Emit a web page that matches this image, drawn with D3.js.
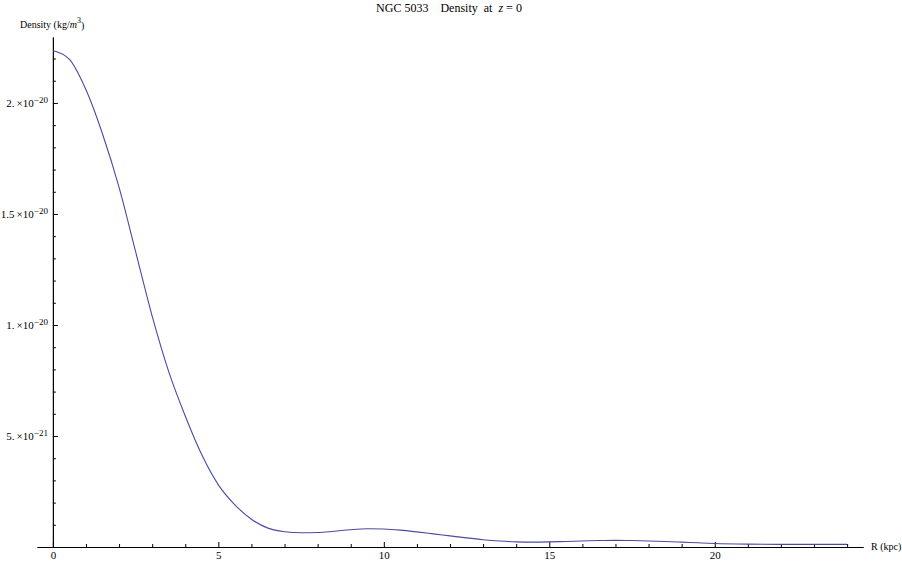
<!DOCTYPE html>
<html>
<head>
<meta charset="utf-8">
<script src="https://cdn.jsdelivr.net/npm/d3@7"></script>
<style>
  body { margin: 0; background: #fff; }
  text { font-family: "Liberation Serif", "Times New Roman", serif; fill: #000; }
  .axis path, .axis line { stroke: #000; stroke-width: 1; }
</style>
</head>
<body>
<script>
// radius in kpc, density in units of 1e-20 kg/m^3
var radius = [0, 0.5, 1, 1.5, 2, 2.5, 3, 3.5, 4, 4.5, 5, 5.5, 6, 6.5, 7, 7.5, 8, 8.5, 9, 9.5,
  10, 10.5, 11, 11.5, 12, 12.5, 13, 13.5, 14, 14.5, 15, 15.5, 16, 16.5, 17, 17.5, 18, 18.5,
  19, 19.5, 20, 21, 22, 23, 24];
var density = [2.236, 2.196, 2.059, 1.86, 1.62, 1.33, 1.04, 0.79, 0.59, 0.415, 0.28, 0.19,
  0.125, 0.085, 0.069, 0.064, 0.065, 0.071, 0.078, 0.082, 0.081, 0.076, 0.068, 0.059, 0.05,
  0.041, 0.033, 0.027, 0.023, 0.022, 0.023, 0.025, 0.027, 0.029, 0.03, 0.029, 0.027, 0.025,
  0.022, 0.019, 0.016, 0.013, 0.012, 0.012, 0.012];

var xTicks = [0, 5, 10, 15, 20];
var yTicks = [0.5, 1, 1.5, 2];
var yTickMantissa = ["5.", "1.", "1.5", "2."];
var yTickExponent = ["\u221221", "\u221220", "\u221220", "\u221220"];

var data = radius.map(function (r, i) {
  return { r: r, d: density[i] };
});

var w = 902, h = 563;

var svg = d3.select("body").append("svg")
  .attr("width", w)
  .attr("height", h);

var x = d3.scaleLinear().domain([-0.48, 24.48]).range([37, 863]);
var y = d3.scaleLinear().domain([0, 2.297]).range([547, 37]);

// minor ticks
var xMinor = d3.range(1, 25).filter(function (v) { return v % 5 != 0; });
var yMinor = d3.range(1, 23).map(function (v) { return v / 10; })
  .filter(function (v) { return Math.round(v * 10) % 5 != 0; });

// x axis
svg.append("g")
  .attr("class", "axis")
  .attr("transform", "translate(0," + y(0) + ")")
  .call(d3.axisBottom(x).tickValues(xMinor).tickSizeInner(-3).tickSizeOuter(0).tickFormat(""));

var xAxis = svg.append("g")
  .attr("class", "axis")
  .attr("transform", "translate(0," + y(0) + ")")
  .call(d3.axisBottom(x).tickValues(xTicks).tickSizeInner(-5).tickSizeOuter(0).tickPadding(4));
xAxis.selectAll("text")
  .style("font-family", "'Liberation Serif', serif")
  .style("font-size", "11px");

// y axis
svg.append("g")
  .attr("class", "axis")
  .attr("transform", "translate(" + x(0) + ",0)")
  .call(d3.axisLeft(y).tickValues(yMinor).tickSizeInner(-3).tickSizeOuter(0).tickFormat(""));

var yAxis = svg.append("g")
  .attr("class", "axis")
  .attr("transform", "translate(" + x(0) + ",0)")
  .call(d3.axisLeft(y).tickValues(yTicks).tickSizeInner(-5).tickSizeOuter(0).tickPadding(5).tickFormat(""));

yAxis.selectAll(".tick text")
  .style("font-family", "'Liberation Serif', serif")
  .style("font-size", "11px")
  .attr("dy", "0.35em")
  .each(function (d, i) {
    var t = d3.select(this);
    t.append("tspan").text(yTickMantissa[i] + "\u2009\u00d7");
    t.append("tspan").text("10");
    t.append("tspan").attr("dy", "-0.45em").style("font-size", "9px").text(yTickExponent[i]);
  });

// curve
var line = d3.line()
  .curve(d3.curveMonotoneX)
  .x(function (d) { return x(d.r); })
  .y(function (d) { return y(d.d); });

svg.append("path")
  .datum(data)
  .attr("d", line)
  .attr("fill", "none")
  .attr("stroke", "#4a4aa2")
  .attr("stroke-width", 1.1);

// title
var title = svg.append("text")
  .attr("x", 449)
  .attr("y", 12)
  .attr("text-anchor", "middle")
  .style("font-size", "12px")
  .style("white-space", "pre");
title.append("tspan").text("NGC 5033    Density  at  ");
title.append("tspan").style("font-style", "italic").text("z");
title.append("tspan").text(" = 0");

// y label
var ylab = svg.append("text")
  .attr("x", 20)
  .attr("y", 28)
  .style("font-size", "10px");
ylab.append("tspan").text("Density (kg/");
ylab.append("tspan").style("font-style", "italic").text("m");
ylab.append("tspan").attr("dy", "-0.6em").style("font-size", "8px").text("3");
ylab.append("tspan").attr("dy", "0.6em").text(")");

// x label
svg.append("text")
  .attr("x", 871)
  .attr("y", 550)
  .style("font-size", "10px")
  .text("R (kpc)");
</script>
</body>
</html>
